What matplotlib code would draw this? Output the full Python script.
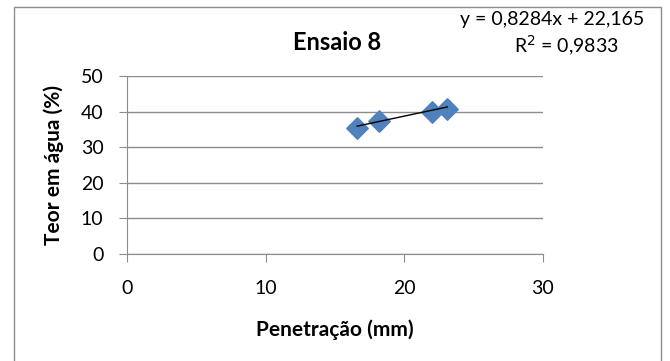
import matplotlib
matplotlib.use("Agg")
import matplotlib.pyplot as plt
import numpy as np

plt.rcParams['font.family'] = ['Lato', 'DejaVu Sans']

# Ensaio 8 measurements
penetracao = [16.6, 18.2, 22.0, 23.1]
teor_agua = [35.4, 37.4, 39.9, 40.7]
slope = 0.8284
intercept = 22.165
r2_text = "0,9833"
x_ticks = [0, 10, 20, 30]
y_ticks = [0, 10, 20, 30, 40, 50]

fig = plt.figure(figsize=(6.7, 3.61), dpi=100)
fig.patch.set_facecolor('white')

# outer chart frame
frame = plt.Rectangle((14 / 670, -0.05), (661 - 14) / 670, 1.05 - 7 / 361,
                      transform=fig.transFigure, fill=False,
                      edgecolor='#8c8c8c', linewidth=1.0)
fig.add_artist(frame)

ax = fig.add_axes([127 / 670, 1 - 254 / 361, (543 - 127) / 670, (254 - 76) / 361])
ax.set_xlim(0, 30)
ax.set_ylim(0, 50)
ax.set_xticks(x_ticks)
ax.set_yticks(y_ticks)
ax.grid(axis='y', color='#8c8c8c', linewidth=1.0)
ax.set_axisbelow(True)
for s in ['top', 'right']:
    ax.spines[s].set_visible(False)
for s in ['left', 'bottom']:
    ax.spines[s].set_color('#8c8c8c')
ax.tick_params(axis='both', colors='#8c8c8c', labelcolor='black',
               labelsize=14, length=6, direction='out')
ax.tick_params(axis='x', pad=13)
ax.tick_params(axis='y', pad=11)

ax.scatter(penetracao, teor_agua, marker='D', s=120, color='#4F81BD',
           edgecolors='#4F81BD', zorder=3)
xs = np.array([min(penetracao), max(penetracao)])
ax.plot(xs, slope * xs + intercept, color='black', linewidth=1.0, zorder=4)

ax.set_xlabel('Penetração (mm)', fontsize=15, fontweight='bold', labelpad=16)
ax.set_ylabel('Teor em água (%)', fontsize=15, fontweight='bold', labelpad=12)

fig.text(337 / 670, 1 - 43 / 361, 'Ensaio 8', ha='center', va='center',
         fontsize=17, fontweight='bold')
fig.text(552 / 670, 1 - 20 / 361,
         f'y = {str(slope).replace(".", ",")}x + {str(intercept).replace(".", ",")}',
         ha='center', va='center', fontsize=14)
fig.text(566 / 670, 1 - 46 / 361, f'R$^2$ = {r2_text}', ha='center', va='center',
         fontsize=14)

fig.savefig('out.png', dpi=100, facecolor='white')
